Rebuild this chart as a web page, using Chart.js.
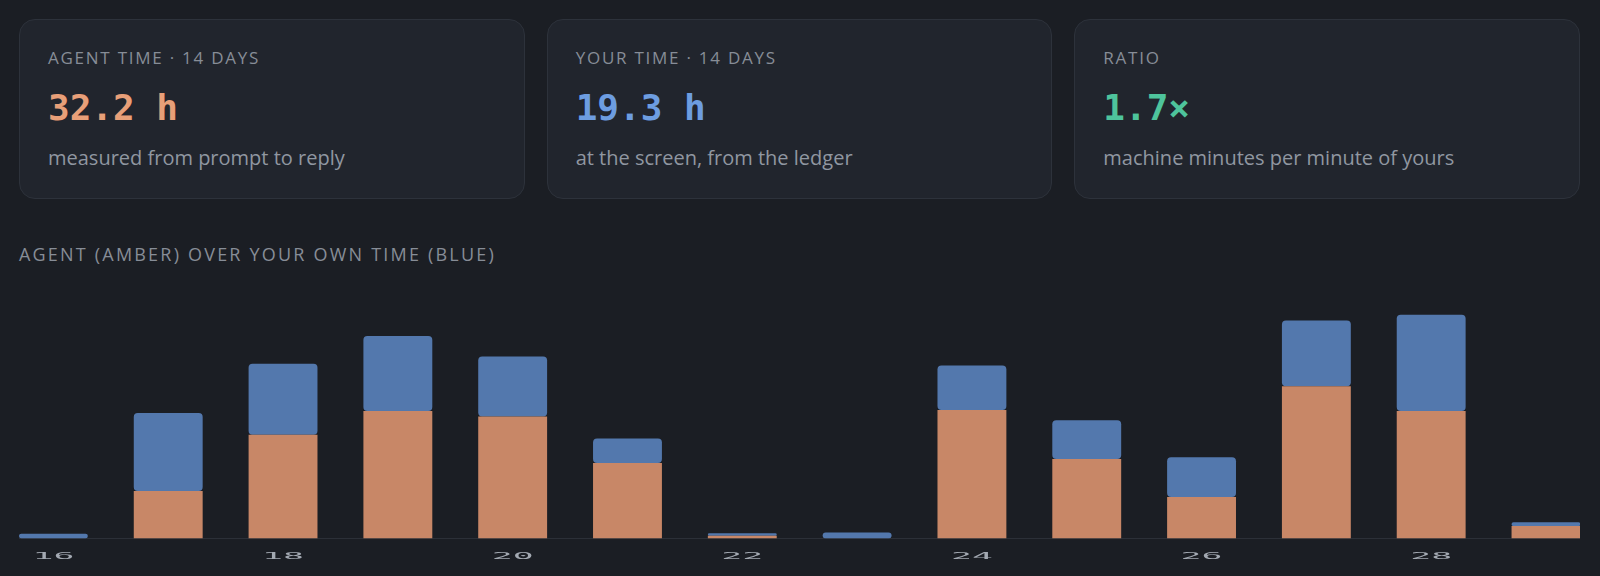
<!DOCTYPE html>
<html>
<head>
<meta charset="utf-8">
<script src="https://cdn.jsdelivr.net/npm/chart.js@4"></script>
<style>
  html, body { margin: 0; padding: 0; background: #1b1e24; overflow: hidden; }
  body { width: 1600px; height: 576px; position: relative; font-family: "Open Sans", "Noto Sans", sans-serif; }
  .cards { position: absolute; left: 19px; top: 19px; width: 1561px; display: flex; gap: 22px; }
  .card { flex: 1; height: 180px; box-sizing: border-box; background: #21252d; border: 1px solid #2d323b; border-radius: 16px; padding: 0 28px; }
  .lbl { margin-top: 27px; font-size: 17px; letter-spacing: 1.75px; color: #878d97; line-height: 22px; }
  .big { margin-top: 15px; font-family: "DejaVu Sans Mono", monospace; font-weight: bold; font-size: 36px; line-height: 48px; }
  .sub { margin-top: 13px; font-size: 20px; color: #9097a1; line-height: 26px; }
  .title { position: absolute; left: 19px; top: 241px; font-size: 18px; letter-spacing: 2.2px; color: #878d97; line-height: 26px; }
  /* panel clips the canvas so the bars sit flush with its edges */
  .panel { position: absolute; left: 19px; top: 278px; width: 1561px; height: 292px; overflow: hidden; }
  .wrap { position: absolute; left: -23.2px; top: 0; width: 1607.4px; height: 292px; }
</style>
</head>
<body>
<div class="cards">
  <div class="card">
    <div class="lbl">AGENT TIME · 14 DAYS</div>
    <div class="big" style="color:#e89f78">32.2 h</div>
    <div class="sub">measured from prompt to reply</div>
  </div>
  <div class="card">
    <div class="lbl">YOUR TIME · 14 DAYS</div>
    <div class="big" style="color:#6d9de0">19.3 h</div>
    <div class="sub">at the screen, from the ledger</div>
  </div>
  <div class="card">
    <div class="lbl">RATIO</div>
    <div class="big" style="color:#4ec49c">1.7×</div>
    <div class="sub">machine minutes per minute of yours</div>
  </div>
</div>
<div class="title">AGENT (AMBER) OVER YOUR OWN TIME (BLUE)</div>
<div class="panel"><div class="wrap"><canvas id="chart"></canvas></div></div>
<script>
// days of the 14 day window
const days = ["16", "17", "18", "19", "20", "21", "22", "23", "24", "25", "26", "27", "28", "29"];
// hours per day
const agentHours = [0, 1.5, 3.27, 4.02, 3.85, 2.38, 0.08, 0, 4.05, 2.51, 1.31, 4.8, 4.02, 0.39];
const yourHours = [0.15, 2.46, 2.24, 2.37, 1.89, 0.77, 0.08, 0.19, 1.41, 1.22, 1.25, 2.08, 3.04, 0.12];

const amber = "#c88767";
const blue = "#5378ad";

//day labels come out wide and flat in the original, so draw them stretched
const squashedTicks = {
  id: "squashedTicks",
  afterDraw(chart) {
    const sc = chart.scales.x;
    const c = chart.ctx;
    c.save();
    c.fillStyle = "#a3a9b2";
    c.font = '12px "DejaVu Sans Mono"';
    c.textAlign = "center";
    c.textBaseline = "middle";
    sc.ticks.forEach((t, i) => {
      if (i % 2) return;
      c.save();
      c.translate(sc.getPixelForTick(i), chart.chartArea.bottom + 18);
      c.scale(2.9, 0.68);
      c.fillText(sc.getLabelForValue(t.value), 0, 0);
      c.restore();
    });
    c.restore();
  },
};

const ctx = document.getElementById("chart");
let chart = new Chart(ctx, {
  type: "bar",
  plugins: [squashedTicks],
  data: {
    labels: days,
    datasets: [
      {
        label: "agent",
        data: agentHours,
        backgroundColor: amber,
        borderRadius: 4,
        borderSkipped: false,
        categoryPercentage: 1,
        barPercentage: 0.6,
      },
      {
        label: "you",
        data: yourHours,
        backgroundColor: blue,
        borderRadius: 4,
        borderSkipped: false,
        categoryPercentage: 1,
        barPercentage: 0.6,
      },
    ],
  },
  options: {
    responsive: true,
    maintainAspectRatio: false,
    animation: false,
    layout: { padding: { left: 0, right: 0, top: 7, bottom: 0 } },
    plugins: {
      legend: { display: false },
      tooltip: { enabled: false },
    },
    scales: {
      x: {
        stacked: true,
        grid: { display: false },
        border: { display: true, color: "#2c3038", width: 1 },
        ticks: {
          //keeps the axis height, the labels themselves are drawn by the plugin
          color: "rgba(0,0,0,0)",
          font: { family: "DejaVu Sans Mono", size: 13, weight: "bold" },
          padding: 4,
          maxRotation: 0,
          autoSkip: false,
        },
      },
      y: {
        stacked: true,
        display: false,
        min: 0,
        max: 8,
      },
    },
  },
});
</script>
</body>
</html>
